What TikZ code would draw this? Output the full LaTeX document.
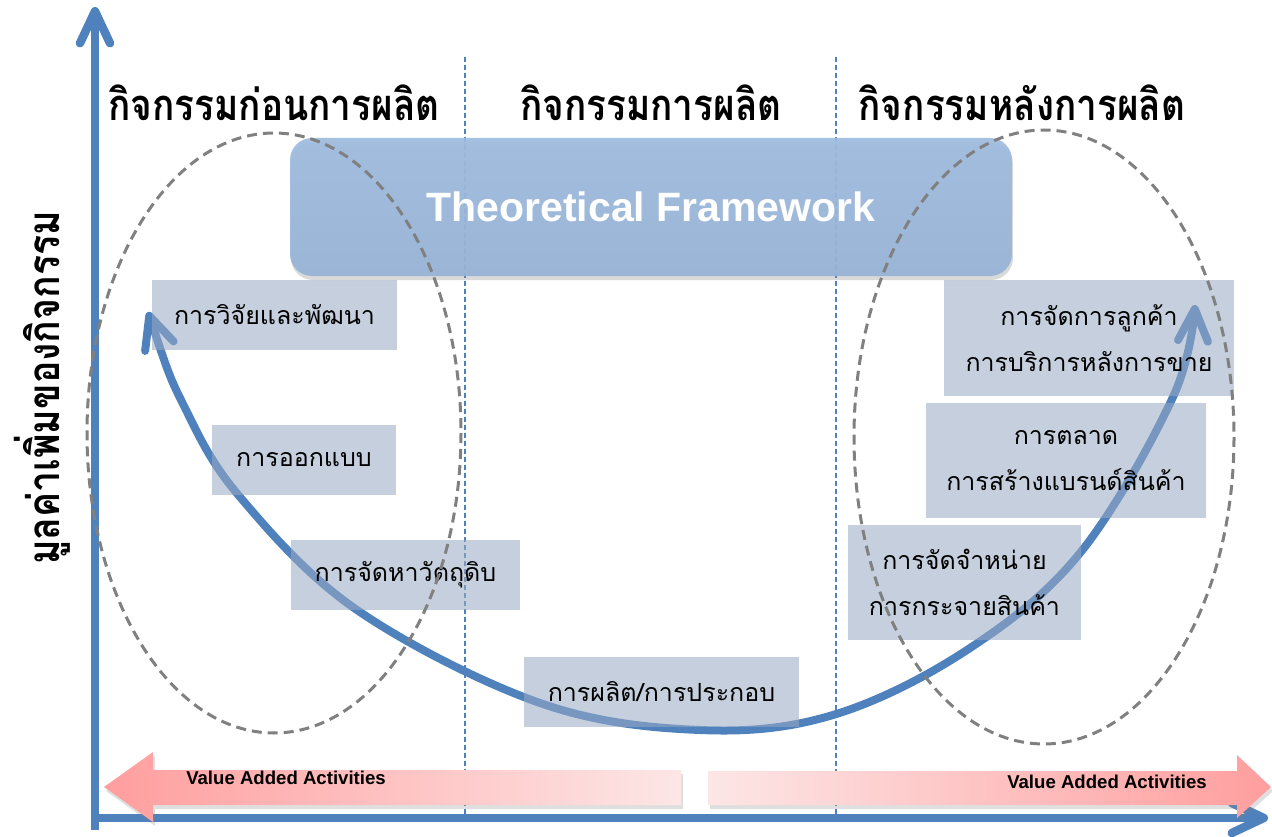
\documentclass[tikz,border=0pt]{standalone}
\usepackage{fontspec}
\setmainfont{Liberation Sans}
\newfontfamily\thai[Script=Thai]{Loma}
\newfontfamily\thaihead[Script=Thai,FakeStretch=0.85]{Loma}
\usetikzlibrary{arrows.meta, shadows}
\definecolor{axisblue}{RGB}{79,129,189}
\definecolor{boxblue}{RGB}{152,170,195}
\definecolor{framefill}{RGB}{149,179,215}
\definecolor{framelight}{RGB}{158,187,223}
\definecolor{pinkdark}{RGB}{255,158,158}
\definecolor{pinklight}{RGB}{253,230,230}

\begin{document}
\begin{tikzpicture}[x=1pt, y=-1pt,
  axis/.style={line width=8.5pt, axisblue, -{Straight Barb[length=32pt,width=30pt,round]}},
  flow/.style={line width=8pt, axisblue, {Straight Barb[length=32pt,width=30pt,round]}-{Straight Barb[length=32pt,width=30pt,round]}},
  divider/.style={axisblue, line width=1.5pt, dash pattern=on 5pt off 3pt},
  zone/.style={gray, line width=3pt, dash pattern=on 10pt off 6pt},
  phase/.style={font=\thaihead\bfseries\fontsize{43.5}{48}\selectfont},
  activity/.style={fill=boxblue, fill opacity=0.56, text opacity=1, inner sep=0pt, align=center, font=\thai\fontsize{25}{46}\selectfont},
  vaa/.style={font=\bfseries\fontsize{18.6}{20}\selectfont}]
\useasboundingbox (0,0) rectangle (1272,837);

% axes
\coordinate (ybase) at (95,830);
\coordinate (ytip) at (95,7);
\coordinate (xbase) at (91,818);
\coordinate (xtip) at (1268,818);
\draw[axis] (ybase) -- (ytip);
\draw[axis] (xbase) -- (xtip);
\node[rotate=90, font=\thaihead\bfseries\fontsize{44}{48}\selectfont] (ylabel) at (42,388) {มูลค่าเพิ่มของกิจกรรม};

% phases
\draw[divider] (465,57) -- (465,815);
\draw[divider] (836,57) -- (836,815);
\node[phase] (pre) at (274,103) {กิจกรรมก่อนการผลิต};
\node[phase] (mid) at (651,103) {กิจกรรมการผลิต};
\node[phase] (post) at (1022,103) {กิจกรรมหลังการผลิต};

% value curve
\coordinate (rdtip) at (148,312);
\coordinate (cstip) at (1195,305);
\draw[flow] plot[smooth, tension=0.6] coordinates {(rdtip) (185,408) (240,497) (357,610) (540,703) (700,730) (833,715) (967,650) (1080,553) (1173,397) (cstip)};

% value added arrows
\shade[left color=pinkdark, right color=pinklight, drop shadow={opacity=0.25, shadow xshift=2pt, shadow yshift=-4pt}]
  (104,787) -- (153,752) -- (153,770) -- (681,770) -- (681,805) -- (153,805) -- (153,822) -- cycle;
\shade[left color=pinklight, right color=pinkdark, drop shadow={opacity=0.25, shadow xshift=2pt, shadow yshift=-4pt}]
  (708,771) -- (1237,771) -- (1237,755) -- (1271,787) -- (1237,818) -- (1237,805) -- (708,805) -- cycle;
\node[vaa] (vaaleft) at (286,778) {Value Added Activities};
\node[vaa] (vaaright) at (1107,782) {Value Added Activities};

% framework
\node[rounded corners=22pt, top color=framelight, bottom color=framefill, fill opacity=0.92, text opacity=1,
  minimum width=722pt, minimum height=138pt, text=white, font=\bfseries\fontsize{41}{45}\selectfont,
  drop shadow={opacity=0.3, shadow xshift=1pt, shadow yshift=-4pt}] (frame) at (651,207) {Theoretical Framework};

% activities
\node[activity, minimum width=245pt, minimum height=70pt] (rd) at (274.5,315) {การวิจัยและพัฒนา};
\node[activity, minimum width=184pt, minimum height=70pt] (design) at (304,460) {การออกแบบ};
\node[activity, minimum width=229pt, minimum height=70pt] (source) at (405.5,575) {การจัดหาวัตถุดิบ};
\node[activity, minimum width=275pt, minimum height=70pt] (make) at (661.5,692) {การผลิต/การประกอบ};
\node[activity, minimum width=233pt, minimum height=115pt] (dist) at (964.5,582.5) {การจัดจำหน่าย\\การกระจายสินค้า};
\node[activity, minimum width=280pt, minimum height=115pt] (mkt) at (1066,460.5) {การตลาด\\การสร้างแบรนด์สินค้า};
\node[activity, minimum width=290pt, minimum height=116pt] (cs) at (1089,338) {การจัดการลูกค้า\\การบริการหลังการขาย};

% zones
\draw[zone] (274,433) ellipse [x radius=187, y radius=300];
\draw[zone] (1044,437) ellipse [x radius=190, y radius=307];
\end{tikzpicture}
\end{document}
